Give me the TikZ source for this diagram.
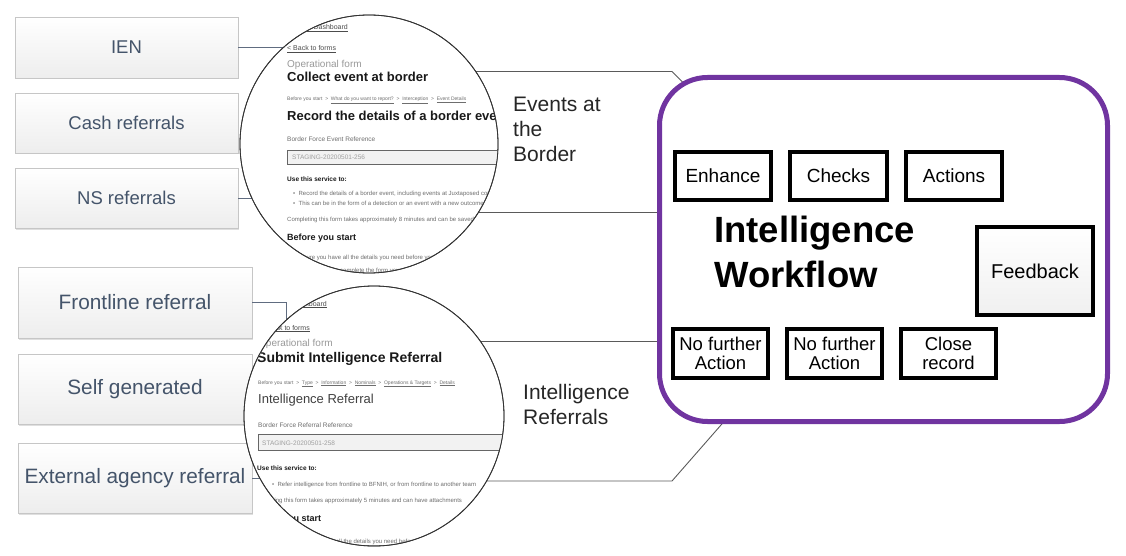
\documentclass[tikz,border=0pt]{standalone}
\usepackage{fontspec}
\setmainfont{Liberation Sans}
\usetikzlibrary{shadows}
\definecolor{slate}{RGB}{68,84,106}
\definecolor{linkgrey}{RGB}{96,108,128}
\definecolor{callgrey}{RGB}{90,90,90}
\definecolor{wfpurple}{RGB}{112,52,160}
\definecolor{formgrey}{RGB}{110,110,110}
\newcommand{\fs}[1]{\fontsize{#1}{#1}\selectfont}
\begin{document}
\begin{tikzpicture}[x=1pt,y=-1pt,
  srcbox/.style={draw=gray!45, top color=white, bottom color=gray!14, text=slate,
    font=\fontsize{18.5}{20}\selectfont, inner sep=0pt,
    drop shadow={shadow xshift=1.2pt, shadow yshift=-1.5pt, opacity=0.25}},
  bigsrc/.style={srcbox, font=\fontsize{20.8}{22}\selectfont},
  srclink/.style={draw=linkgrey, line width=1pt},
  callout/.style={draw=callgrey, line width=0.9pt},
  lens/.style={circle, draw=black!80, line width=0.8pt, minimum size=#1, inner sep=0pt},
  stagebox/.style={draw=black, line width=4pt, fill=white, inner sep=0pt,
    font=\fontsize{19}{20}\selectfont, align=center},
  caption/.style={anchor=north west, inner sep=0pt, align=left,
    font=\fontsize{21}{25}\selectfont, text=black!85},
  ftxt/.style={anchor=base west, inner sep=0pt, text=formgrey, font=\fs{6}},
  fhead/.style={anchor=base west, inner sep=0pt, text=black!90, font=\bfseries\fs{13}},
  fbold/.style={anchor=base west, inner sep=0pt, text=black!90, font=\bfseries\fs{6.5}},
  ffield/.style={draw=black!60, fill=gray!10, line width=0.8pt},
]
\useasboundingbox (0,0) rectangle (1126,556);

% ---- source boxes ----
\node[srcbox, minimum width=223pt, minimum height=61pt] (ien)  at (126.5,47.5) {IEN};
\node[srcbox, minimum width=223pt, minimum height=60pt] (cash) at (126.5,123) {Cash referrals};
\node[srcbox, minimum width=223pt, minimum height=60pt] (ns)   at (126.5,198) {NS referrals};
\node[bigsrc, minimum width=234pt, minimum height=71pt] (front) at (135,302.5) {Frontline referral};
\node[bigsrc, minimum width=234pt, minimum height=70pt] (self)  at (135,389) {Self generated};
\node[bigsrc, minimum width=234pt, minimum height=70pt] (ext)   at (135,478) {External agency referral};

% ---- lens centres and link ends ----
\coordinate (topcen) at (369,144);
\coordinate (lowcen) at (374,416);
\coordinate (frontbend) at (286,302.5);

\draw[srclink] (ien.east) -- (ien.east -| topcen);
\draw[srclink] (ns.east) -- (ns.east -| topcen);
\draw[srclink] (front.east) -- (frontbend) -- (frontbend |- lowcen);
\draw[srclink] (ext.east) -- (ext.east -| lowcen);

% ---- callout outlines leading to the workflow panel ----
\coordinate (evtop) at (672,71.5);
\coordinate (evbot) at (700,212);
\coordinate (irtop) at (700,341);
\coordinate (irbot) at (672,481);
\draw[callout] (topcen |- evtop) -- (evtop) -- ++(60,60);
\draw[callout] (topcen |- evbot) -- (evbot);
\draw[callout] (lowcen |- irtop) -- (irtop);
\draw[callout] (lowcen |- irbot) -- (irbot) -- ++(56,-64);

\node[caption] (evcap) at (513,97) {Events at\\the\\Border};
\node[caption] (ircap) at (523,384) {Intelligence\\Referrals};

% ---- upper lens: border event form ----
\node[lens=258pt, fill=white] (toplens) at (topcen) {};
\begin{scope}
  \clip (topcen) circle (128.6);
  \node[ftxt, anchor=base east, text=black!70, font=\fs{7}] (t0) at (348,30) {\underline{< Back to Dashboard}};
  \node[ftxt, text=black!70, font=\fs{7}] (t1) at (287,51) {\underline{< Back to forms}};
  \node[ftxt, font=\fs{10}, text=gray!80] (t2) at (287,67.5) {Operational form};
  \node[fhead] (t3) at (287,82) {Collect event at border};
  \node[ftxt, font=\fs{5}] (t4) at (287,101) {Before you start \ > \ \underline{What do you want to report?} \ > \ \underline{Interception} \ > \ \underline{Event Details}};
  \node[fhead] (t5) at (287,121) {Record the details of a border event};
  \node[ftxt, font=\fs{6.5}] (t6) at (287,141.5) {Border Force Event Reference};
  \draw[ffield] (287,150) rectangle (540,164);
  \node[ftxt, font=\fs{6.5}, text=gray!75] (t7) at (292,160) {STAGING-20200501-256};
  \node[fbold] (t8) at (287,182) {Use this service to:};
  \node[ftxt] (t9) at (293,196) {•\ \ Record the details of a border event, including events at Juxtaposed controls};
  \node[ftxt] (t10) at (293,205) {•\ \ This can be in the form of a detection or an event with a new outcome};
  \node[ftxt] (t11) at (287,221) {Completing this form takes approximately 8 minutes and can be saved};
  \node[fbold, font=\bfseries\fs{9}] (t12) at (287,240) {Before you start};
  \node[ftxt] (t13) at (287,259) {Make sure you have all the details you need before you begin};
  \node[ftxt] (t14) at (287,272) {\underline{If you are unable to complete the form you can save it}};
\end{scope}
\node[lens=258pt] (toprim) at (topcen) {};

% ---- lower lens: intelligence referral form ----
\node[lens=260pt, fill=white] (lowlens) at (lowcen) {};
\begin{scope}
  \clip (lowcen) circle (129.6);
  \node[ftxt, anchor=base east, text=black!70, font=\fs{7}] (l0) at (327,306) {\underline{< Back to Dashboard}};
  \node[ftxt, anchor=base east, text=black!70, font=\fs{7}] (l1) at (310,330) {\underline{< Back to forms}};
  \node[ftxt, font=\fs{10}, text=gray!80] (l2) at (258,346) {Operational form};
  \node[fhead, font=\bfseries\fs{14}] (l3) at (257,362.5) {Submit Intelligence Referral};
  \node[ftxt, font=\fs{5}] (l4) at (258,384) {Before you start \ > \ \underline{Type} \ > \ \underline{Information} \ > \ \underline{Nominals} \ > \ \underline{Operations \& Targets} \ > \ \underline{Details}};
  \node[ftxt, font=\fs{13}, text=black!75] (l5) at (258,403) {Intelligence Referral};
  \node[ftxt, font=\fs{6.5}] (l6) at (258,427) {Border Force Referral Reference};
  \draw[ffield] (258,434.5) rectangle (540,450);
  \node[ftxt, font=\fs{6.5}, text=gray!75] (l7) at (262,445) {STAGING-20200501-258};
  \node[fbold] (l8) at (257,470) {Use this service to:};
  \node[ftxt] (l9) at (272,486) {•\ \ Refer intelligence from frontline to BFNIH, or from frontline to another team};
  \node[ftxt] (l10) at (252,502.5) {Completing this form takes approximately 5 minutes and can have attachments};
  \node[fbold, font=\bfseries\fs{9}] (l11) at (252,521) {Before you start};
  \node[ftxt] (l12) at (280,543) {Make sure you have all the \underline{details you need} before you begin};
\end{scope}
\node[lens=260pt] (lowrim) at (lowcen) {};

% ---- workflow panel ----
\node[draw=wfpurple, line width=5pt, rounded corners=48pt, fill=white,
      minimum width=448pt, minimum height=344pt, inner sep=0pt] (wf) at (883.5,249.5) {};

\node[stagebox, minimum width=96pt, minimum height=48pt] (enh) at (723,176) {Enhance};
\node[stagebox, minimum width=97pt, minimum height=48pt] (chk) at (838.5,176) {Checks};
\node[stagebox, minimum width=96pt, minimum height=48pt] (act) at (954,176) {Actions};
\node[stagebox, minimum width=116pt, minimum height=88pt, fill=none,
      top color=white, bottom color=gray!12, font=\fontsize{20}{22}\selectfont] (fb) at (1035,271) {Feedback};
\node[stagebox, minimum width=95pt, minimum height=49pt, font=\fontsize{18.5}{19}\selectfont] (nfa1) at (720.5,353.5) {No further\\Action};
\node[stagebox, minimum width=95pt, minimum height=49pt, font=\fontsize{18.5}{19}\selectfont] (nfa2) at (834.5,353.5) {No further\\Action};
\node[stagebox, minimum width=95pt, minimum height=49pt, font=\fontsize{18.5}{19}\selectfont] (close) at (948.5,353.5) {Close\\record};

\node[anchor=base west, inner sep=0pt, font=\bfseries\fontsize{36.5}{40}\selectfont] (wft1) at (714,242) {Intelligence};
\node[anchor=base west, inner sep=0pt, font=\bfseries\fontsize{36.5}{40}\selectfont] (wft2) at (714,287) {Workflow};
\end{tikzpicture}
\end{document}
